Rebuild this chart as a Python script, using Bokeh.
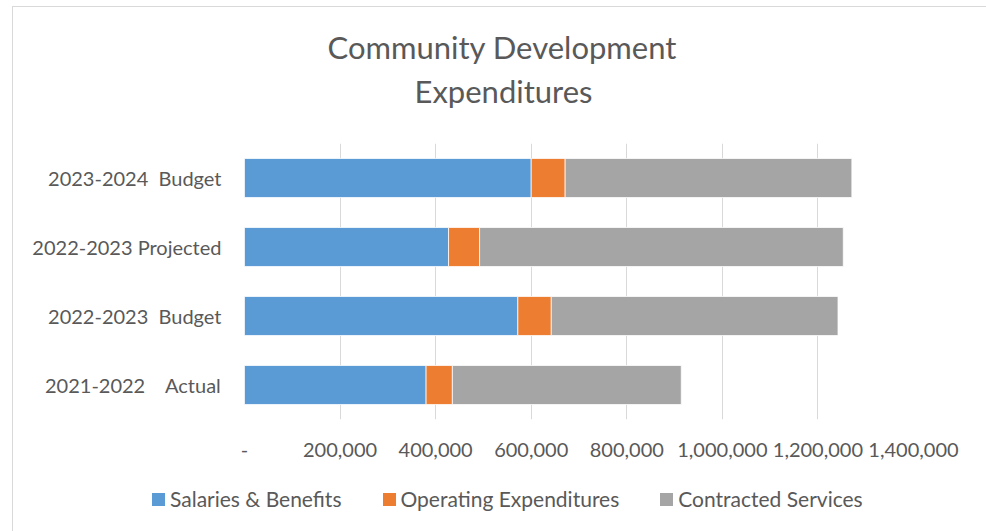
import html
from bokeh.plotting import figure
from bokeh.layouts import column
from bokeh.models import (FactorRange, Range1d, FixedTicker, NumeralTickFormatter,
                          Title, ColumnDataSource, Div)
from bokeh.embed import file_html
from bokeh.resources import INLINE

NB = "\u00a0"
categories = ["2021-2022" + NB * 3 + " Actual", "2022-2023" + NB + " Budget",
              "2022-2023 Projected", "2023-2024" + NB + " Budget"]
series = ["Salaries & Benefits", "Operating Expenditures", "Contracted Services"]
salaries = [380000, 572000, 427000, 600000]
operating = [55000, 70000, 65000, 71000]
contracted = [479000, 600000, 761000, 600000]
x_ticks = [0, 200000, 400000, 600000, 800000, 1000000, 1200000, 1400000]
title_lines = ["Community Development", "Expenditures"]

colors = ["#5B9BD5", "#ED7D31", "#A5A5A5"]
FONT = "Lato"
TXT = "#595959"

source = ColumnDataSource(dict(cat=categories, **dict(zip(series, [salaries, operating, contracted]))))

p = figure(width=970, height=462, y_range=FactorRange(*categories),
           x_range=Range1d(x_ticks[0], x_ticks[-1]),
           output_backend="svg", toolbar_location=None,
           min_border_left=231, min_border_right=70, min_border_top=136, min_border_bottom=50)
p.outline_line_color = None

renderers = p.hbar_stack(series, y="cat", height=0.565, source=source,
                         fill_color=colors, line_color="white", line_width=0.75)

# axes
p.xaxis.ticker = FixedTicker(ticks=x_ticks)
p.xaxis.formatter = NumeralTickFormatter(format="0,0")
p.xaxis.major_label_overrides = {0: "-"}
for ax in (p.xaxis[0], p.yaxis[0]):
    ax.axis_line_color = None
    ax.major_tick_line_color = None
    ax.minor_tick_line_color = None
    ax.major_label_text_font = FONT
    ax.major_label_text_font_size = "20px"
    ax.major_label_text_color = TXT
p.xaxis.major_label_standoff = 17
p.yaxis.major_label_standoff = 17
p.xgrid.grid_line_color = "#d9d9d9"
p.xgrid.grid_line_width = 1
p.ygrid.grid_line_color = None

# title: spacer, then two centred lines (later = farther from the plot)
p.add_layout(Title(text=" ", text_font_size="20px", standoff=8), "above")
p.add_layout(Title(text=title_lines[1], align="left", offset=170, standoff=4, text_font=FONT,
                   text_font_size="31px", text_font_style="normal", text_color=TXT), "above")
p.add_layout(Title(text=title_lines[0], align="left", offset=83, standoff=4, text_font=FONT,
                   text_font_size="31px", text_font_style="normal", text_color=TXT), "above")

# legend row below the chart
items = []
for i, (s, c) in enumerate(zip(series, colors)):
    gap = "margin-left:41px;" if i else ""
    items.append(f'<span style="display:inline-block;width:13px;height:13px;background:{c};'
                 f'margin-right:5px;{gap}"></span><span>{html.escape(s)}</span>')
legend_html = ('<div style="display:flex;align-items:center;padding-left:134px;padding-top:12px;'
               f'line-height:26px;font-family:{FONT};font-size:21px;color:{TXT};white-space:nowrap">'
               + "".join(items) + "</div>")
legend_div = Div(text=legend_html, width=970, height=55)

layout = column(p, legend_div, spacing=0)
layout.styles = {"border-left": "1px solid #d9d9d9", "border-top": "1px solid #d9d9d9",
                 "margin-left": "12px", "margin-top": "6px"}

open("out.html", "w").write(file_html(layout, INLINE))
